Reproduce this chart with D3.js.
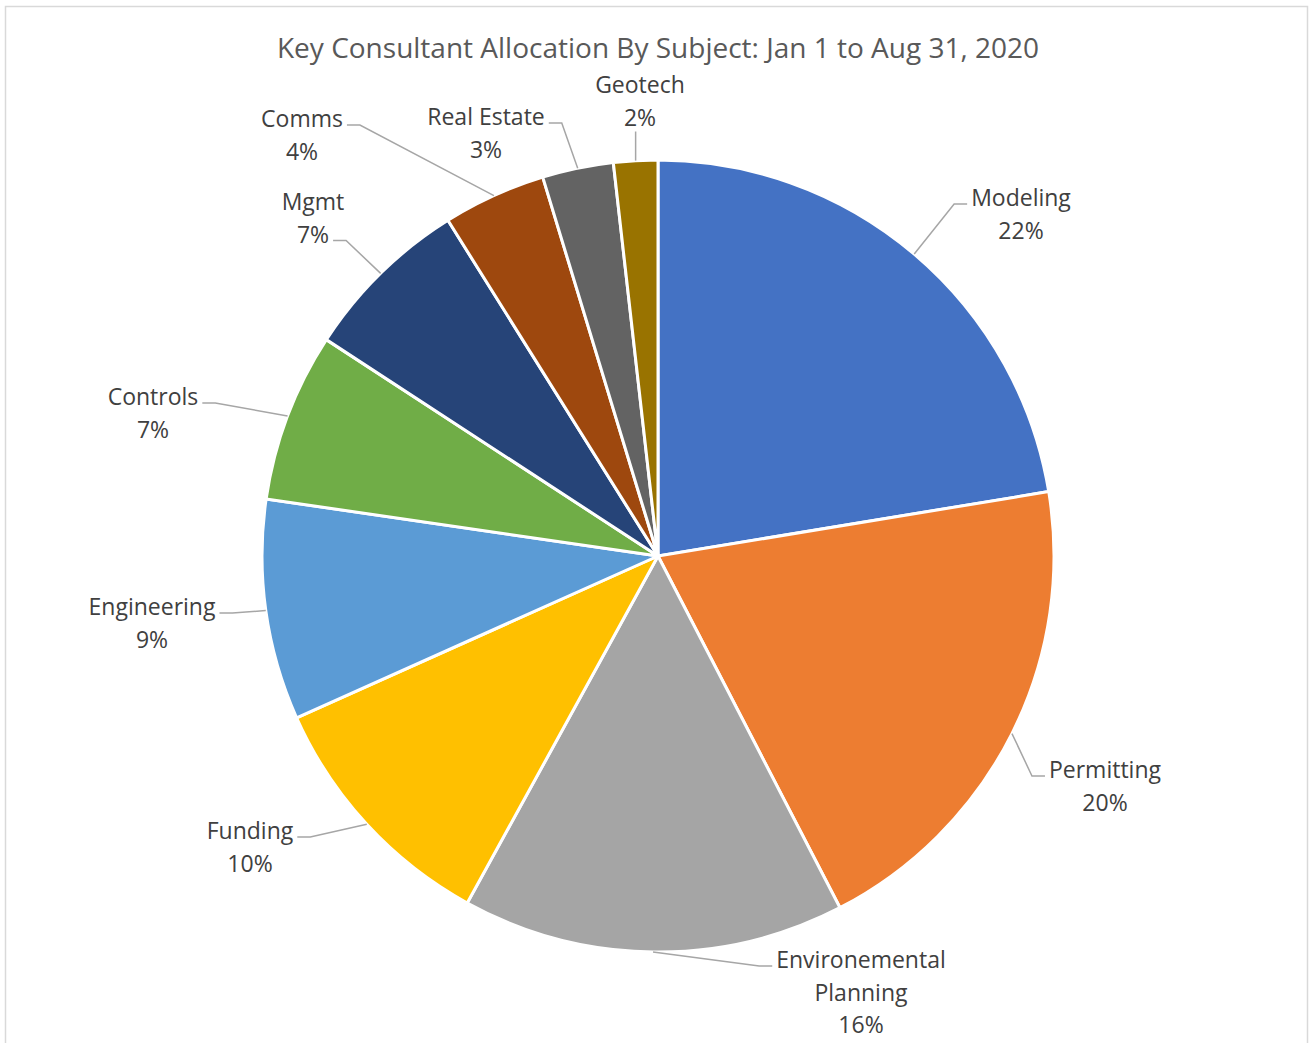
<!DOCTYPE html>
<html>
<head>
<meta charset="utf-8">
<script src="https://cdn.jsdelivr.net/npm/d3@7"></script>
<style>
  body { margin: 0; background: #fff; }
  text { font-family: "Open Sans", "Noto Sans", sans-serif; }
</style>
</head>
<body>
<div id="app"></div>
<script>
// data (shares in %, clockwise from 12 o'clock)
const subjects = ['Modeling', 'Permitting', 'Environemental Planning', 'Funding', 'Engineering',
  'Controls', 'Mgmt', 'Comms', 'Real Estate', 'Geotech'];
const shares = [22.4, 20.0, 15.6, 10.3, 9.0, 6.9, 6.9, 4.2, 2.9, 1.8];
const colors = ['#4472C4', '#ED7D31', '#A5A5A5', '#FFC000', '#5B9BD5',
  '#70AD47', '#264478', '#9E480E', '#636363', '#997300'];

const width = 1310;
const height = 1043;
const cx = 658, cy = 556, radius = 396;

// label placement (Excel "best fit" look): centre x, first line y, where the leader meets the text
const labelLayout = {
  'Modeling': { x: 1021, y: 197, attach: 'left' },
  'Permitting': { x: 1105, y: 769, attach: 'left' },
  'Environemental Planning': { x: 861, y: 959, attach: 'left', lines: ['Environemental', 'Planning'] },
  'Funding': { x: 250, y: 830, attach: 'right' },
  'Engineering': { x: 152, y: 606, attach: 'right' },
  'Controls': { x: 153, y: 396, attach: 'right' },
  'Mgmt': { x: 313, y: 201, attach: 'right2' },
  'Comms': { x: 302, y: 118, attach: 'right' },
  'Real Estate': { x: 486, y: 116, attach: 'right' },
  'Geotech': { x: 640, y: 84, attach: 'bottom' }
};
const lineGap = 32.5;

const data = subjects.map((s, i) => ({ name: s, value: shares[i], color: colors[i] }));

const svg = d3.select('#app').append('svg')
  .attr('width', width).attr('height', height);

// chart frame
svg.append('rect')
  .attr('x', 5.5).attr('y', 6.5)
  .attr('width', width - 8).attr('height', height + 20)
  .attr('fill', '#fff').attr('stroke', '#d9d9d9').attr('stroke-width', 1.5);

svg.append('text')
  .attr('x', 658).attr('y', 47)
  .attr('text-anchor', 'middle').attr('dominant-baseline', 'central')
  .attr('fill', '#595959').style('font-size', '28px')
  .text('Key Consultant Allocation By Subject: Jan 1 to Aug 31, 2020');

const pie = d3.pie().value(d => d.value).sort(null);
const arcs = pie(data);
const arc = d3.arc().innerRadius(0).outerRadius(radius);
const edgeArc = d3.arc().innerRadius(radius).outerRadius(radius);

const g = svg.append('g').attr('transform', `translate(${cx},${cy})`);

g.selectAll('path.slice')
  .data(arcs)
  .join('path')
  .attr('class', 'slice')
  .attr('d', arc)
  .attr('fill', d => d.data.color)
  .attr('stroke', '#fff')
  .attr('stroke-width', 3)
  .attr('stroke-linejoin', 'round');

// labels
const labels = svg.append('g').attr('class', 'labels');
const leaders = svg.append('g').attr('class', 'leaders');

arcs.forEach(d => {
  const lay = labelLayout[d.data.name];
  const lines = (lay.lines || [d.data.name]).concat([Math.round(d.data.value) + '%']);
  const widths = [];
  lines.forEach((t, k) => {
    const el = labels.append('text')
      .attr('x', lay.x).attr('y', lay.y + k * lineGap)
      .attr('text-anchor', 'middle').attr('dominant-baseline', 'central')
      .attr('fill', '#404040').style('font-size', '23px')
      .text(t);
    widths.push(el.node().getComputedTextLength());
  });

  // leader starts on the rim at the slice's mid angle
  const c = edgeArc.centroid(d);
  const start = [cx + c[0], cy + c[1]];
  let pts;
  if (lay.attach === 'bottom') {
    const end = [start[0], lay.y + lineGap + 15];
    pts = [start, end];
  } else {
    const k = lay.attach === 'right2' ? 1 : 0;
    const yy = lay.y + k * lineGap + 7;
    const w = widths[k];
    if (lay.attach === 'left') {
      const ex = lay.x - w / 2 - 4;
      pts = [start, [ex - 13, yy], [ex, yy]];
    } else {
      const ex = lay.x + w / 2 + 4;
      pts = [start, [ex + 13, yy], [ex, yy]];
    }
  }
  leaders.append('path')
    .attr('d', d3.line()(pts))
    .attr('fill', 'none')
    .attr('stroke', '#a6a6a6')
    .attr('stroke-width', 1.5);
});
</script>
</body>
</html>
